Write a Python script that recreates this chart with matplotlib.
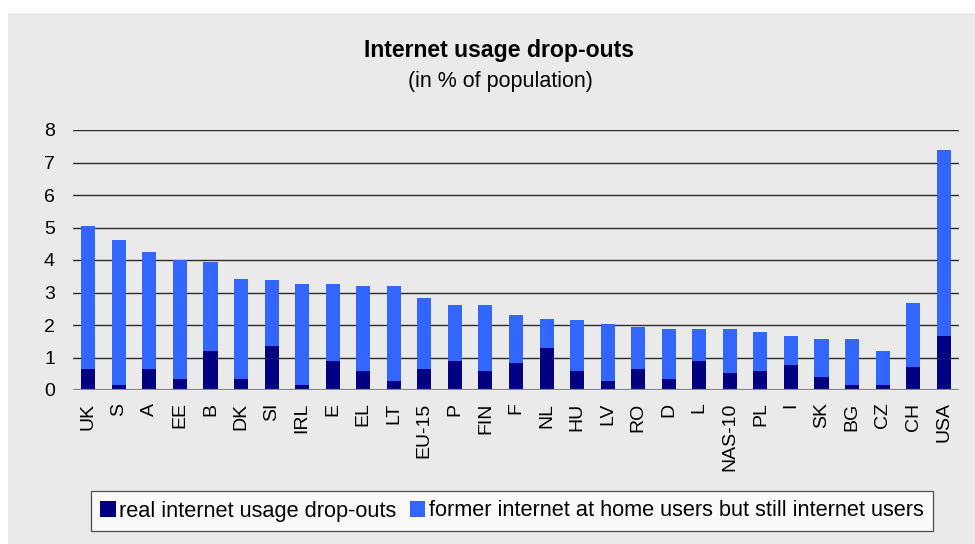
import matplotlib
matplotlib.use("Agg")
import matplotlib.pyplot as plt
from matplotlib.patches import Rectangle
import numpy as np

plt.rcParams["font.family"] = ["Liberation Sans", "DejaVu Sans"]

# Internet usage drop-outs, % of population
countries = ["UK", "S", "A", "EE", "B", "DK", "SI", "IRL", "E", "EL", "LT",
             "EU-15", "P", "FIN", "F", "NL", "HU", "LV", "RO", "D", "L",
             "NAS-10", "PL", "I", "SK", "BG", "CZ", "CH", "USA"]
totals = [5.04, 4.61, 4.24, 3.99, 3.93, 3.43, 3.37, 3.25, 3.25, 3.19, 3.19,
          2.82, 2.63, 2.63, 2.32, 2.17, 2.14, 2.02, 1.95, 1.89, 1.89,
          1.89, 1.77, 1.65, 1.58, 1.58, 1.21, 2.69, 7.38]
real_dropouts = [0.66, 0.16, 0.66, 0.35, 1.21, 0.35, 1.34, 0.16, 0.90, 0.60, 0.29,
                 0.66, 0.90, 0.60, 0.84, 1.28, 0.60, 0.29, 0.66, 0.35, 0.90,
                 0.53, 0.60, 0.78, 0.41, 0.16, 0.16, 0.72, 1.65]
former_home = [t - r for t, r in zip(totals, real_dropouts)]

labels = ["real internet usage drop-outs",
          "former internet at home users but still internet users"]
dark, light = "#000080", "#3366FF"
bg = "#EAEAEA"

fig = plt.figure(figsize=(9.75, 5.44), dpi=100, facecolor="white")
fig.patches.append(Rectangle((8 / 975, 0), 1, 1 - 13 / 544, transform=fig.transFigure,
                             facecolor=bg, edgecolor="none", zorder=-10))

ax = fig.add_axes([73 / 975, 1 - 390 / 544, (959 - 73) / 975, 260 / 544])
ax.set_facecolor(bg)

x = np.arange(len(countries))
ax.bar(x, real_dropouts, 0.46, color=dark, label=labels[0], zorder=3)
ax.bar(x, former_home, 0.46, bottom=real_dropouts, color=light, label=labels[1], zorder=3)

ax.set_xlim(-0.5, len(countries) - 0.5)
ax.set_ylim(0, 8)
ax.set_yticks(range(0, 9))
for v in range(1, 9):
    ax.axhline(v, color="#2a2a2a", lw=1.0, zorder=1)
ax.axhline(0, color="#888888", lw=1.6, zorder=4)

for s in ax.spines.values():
    s.set_visible(False)
ax.set_xticks(x)
ax.set_xticklabels(countries, rotation=90, fontsize=14)
ax.tick_params(axis="both", length=0, labelsize=14)
ax.tick_params(axis="y", pad=13)
ax.tick_params(axis="x", pad=9)

fig.text(0.512, 1 - 50 / 544, "Internet usage drop-outs", ha="center", va="center",
         fontsize=16.6, fontweight="bold")
fig.text(0.513, 1 - 81 / 544, "(in % of population)", ha="center", va="center",
         fontsize=15.5)

leg = fig.legend(loc="center", bbox_to_anchor=(512 / 975, 1 - 511 / 544), ncol=2,
                 fontsize=15.7, frameon=True, fancybox=False, handlelength=0.72,
                 handleheight=0.72, handletextpad=0.15, columnspacing=0.6,
                 borderpad=0.45, borderaxespad=0)
leg.get_frame().set_edgecolor("#222222")
leg.get_frame().set_linewidth(0.9)
leg.get_frame().set_facecolor("white")

fig.savefig("out.png", dpi=100, facecolor="white")
